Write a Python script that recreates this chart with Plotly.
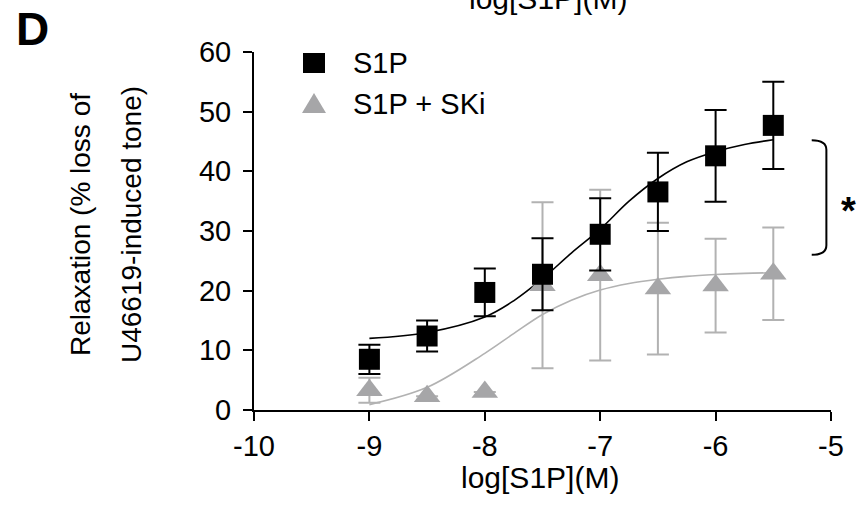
import plotly.graph_objects as go

# ---- data ----
log_conc = [-9, -8.5, -8, -7.5, -7, -6.5, -6, -5.5]

s1p_mean = [8.5, 12.4, 19.7, 22.75, 29.45, 36.55, 42.6, 47.7]
s1p_sem = [2.45, 2.6, 4.0, 6.05, 6.05, 6.55, 7.7, 7.3]

ski_mean = [3.3, 2.3, 3.0, 20.9, 22.6, 20.35, 20.85, 22.85]
ski_sem = [2.1, None, None, 13.9, 14.3, 11.05, 7.85, 7.75]

# fitted curves
curve_x = [-9, -8.5, -8, -7.75, -7.5, -7.25, -7, -6.75, -6.5, -6.25, -6, -5.75, -5.5]
s1p_curve = [12.0, 13.0, 15.6, 18.3, 22.0, 26.3, 30.3, 35.0, 38.8, 41.6, 43.3, 44.5, 45.3]
ski_curve = [0.9, 3.8, 9.5, 12.8, 16.0, 18.4, 20.1, 21.2, 21.9, 22.4, 22.7, 22.9, 23.0]

x_ticks = [-10, -9, -8, -7, -6, -5]
y_ticks = [0, 10, 20, 30, 40, 50, 60]

series_names = ["S1P", "S1P + SKi"]

bracket_top = 45.2
bracket_bottom = 26.0
bracket_left = -5.167
bracket_right = -5.04

FONT = "Liberation Sans, Arial, sans-serif"
BLACK = "#000000"
GRAY = "#a6a6a8"
GRAY_ERR = "#b2b2b2"

# layout geometry (pixels)
W, H = 861, 508
ML, MR, MT, MB = 254, 30, 52, 98
PW = W - ML - MR
PH = H - MT - MB


def px(xp):
    return (xp - ML) / PW


def py(yp):
    return (H - MB - yp) / PH


fig = go.Figure()

# curves
fig.add_trace(go.Scatter(x=curve_x, y=ski_curve, mode="lines",
                         line=dict(color=GRAY_ERR, width=1.6, shape="spline"),
                         showlegend=False, hoverinfo="skip"))
fig.add_trace(go.Scatter(x=curve_x, y=s1p_curve, mode="lines",
                         line=dict(color=BLACK, width=1.6, shape="spline"),
                         showlegend=False, hoverinfo="skip"))

# S1P + SKi
fig.add_trace(go.Scatter(
    x=log_conc, y=ski_mean, mode="markers", name=series_names[1],
    marker=dict(symbol="triangle-up", size=23, color=GRAY),
    error_y=dict(type="data", array=ski_sem, visible=True, color=GRAY_ERR,
                 thickness=2, width=11),
    showlegend=False, cliponaxis=False))

# S1P
fig.add_trace(go.Scatter(
    x=log_conc, y=s1p_mean, mode="markers", name=series_names[0],
    marker=dict(symbol="square", size=21, color=BLACK),
    error_y=dict(type="data", array=s1p_sem, visible=True, color=BLACK,
                 thickness=2, width=11),
    showlegend=False, cliponaxis=False))

# significance bracket
d = 1.6
path = (f"M {bracket_left},{bracket_top} "
        f"Q {bracket_right},{bracket_top} {bracket_right},{bracket_top - d} "
        f"L {bracket_right},{bracket_bottom + d} "
        f"Q {bracket_right},{bracket_bottom} {bracket_left},{bracket_bottom}")
fig.add_shape(type="path", path=path, xref="x", yref="y",
              line=dict(color=BLACK, width=2))

fig.add_annotation(x=px(848), y=py(211), xref="paper", yref="paper", text="<b>*</b>",
                   xanchor="center", yanchor="middle",
                   showarrow=False, font=dict(family=FONT, size=38, color=BLACK))

# manual legend (larger symbols than plotly's legend allows)
fig.add_shape(type="rect", xref="paper", yref="paper",
              x0=px(303), x1=px(325), y0=py(73), y1=py(53),
              fillcolor=BLACK, line=dict(width=0))
fig.add_shape(type="path", xref="paper", yref="paper",
              path=(f"M {px(302)},{py(113)} L {px(326)},{py(113)} "
                    f"L {px(314)},{py(93)} Z"),
              fillcolor=GRAY, line=dict(width=0))
fig.add_annotation(x=px(351), y=py(63), xref="paper", yref="paper",
                   text=series_names[0], xanchor="left", yanchor="middle",
                   showarrow=False, font=dict(family=FONT, size=29, color=BLACK))
fig.add_annotation(x=px(351), y=py(104), xref="paper", yref="paper",
                   text=series_names[1], xanchor="left", yanchor="middle",
                   showarrow=False, font=dict(family=FONT, size=29, color=BLACK))

# y-axis title (two lines, wide spacing)
fig.add_annotation(x=px(80), y=py(225), xref="paper", yref="paper",
                   text="Relaxation (% loss of", textangle=-90, showarrow=False,
                   xanchor="center", yanchor="middle",
                   font=dict(family=FONT, size=28, color=BLACK))
fig.add_annotation(x=px(131), y=py(225), xref="paper", yref="paper",
                   text="U46619-induced tone)", textangle=-90, showarrow=False,
                   xanchor="center", yanchor="middle",
                   font=dict(family=FONT, size=28, color=BLACK))

# x-axis title
fig.add_annotation(x=px(540), y=py(478), xref="paper", yref="paper",
                   text="log[S1P](M)", showarrow=False,
                   xanchor="center", yanchor="middle",
                   font=dict(family=FONT, size=30, color=BLACK))
# cut-off label of the panel above (only its lower part is visible)
fig.add_annotation(x=px(548), y=py(-2), xref="paper", yref="paper",
                   text="log[S1P](M)", showarrow=False,
                   xanchor="center", yanchor="middle",
                   font=dict(family=FONT, size=30, color=BLACK))

# panel letter
fig.add_annotation(x=px(32), y=py(29), xref="paper", yref="paper",
                   text="<b>D</b>", showarrow=False,
                   xanchor="center", yanchor="middle",
                   font=dict(family=FONT, size=46, color=BLACK))

fig.update_layout(
    width=W, height=H,
    margin=dict(l=ML, r=MR, t=MT, b=MB),
    paper_bgcolor="white", plot_bgcolor="white",
    font=dict(family=FONT, size=28, color=BLACK),
    showlegend=False,
    xaxis=dict(range=[-10, -5], tickvals=x_ticks, ticktext=[str(v) for v in x_ticks],
               showgrid=False, zeroline=False, showline=True, linecolor=BLACK,
               linewidth=2, ticks="outside", ticklen=9, tickwidth=2, tickcolor=BLACK,
               tickfont=dict(family=FONT, size=29), fixedrange=True),
    yaxis=dict(range=[0, 60], tickvals=y_ticks, ticktext=[str(v) for v in y_ticks],
               showgrid=False, zeroline=False, showline=True, linecolor=BLACK,
               linewidth=2, ticks="outside", ticklen=9, tickwidth=2, tickcolor=BLACK,
               ticklabelstandoff=6,
               tickfont=dict(family=FONT, size=29), fixedrange=True),
)

fig.write_html("out.html")
